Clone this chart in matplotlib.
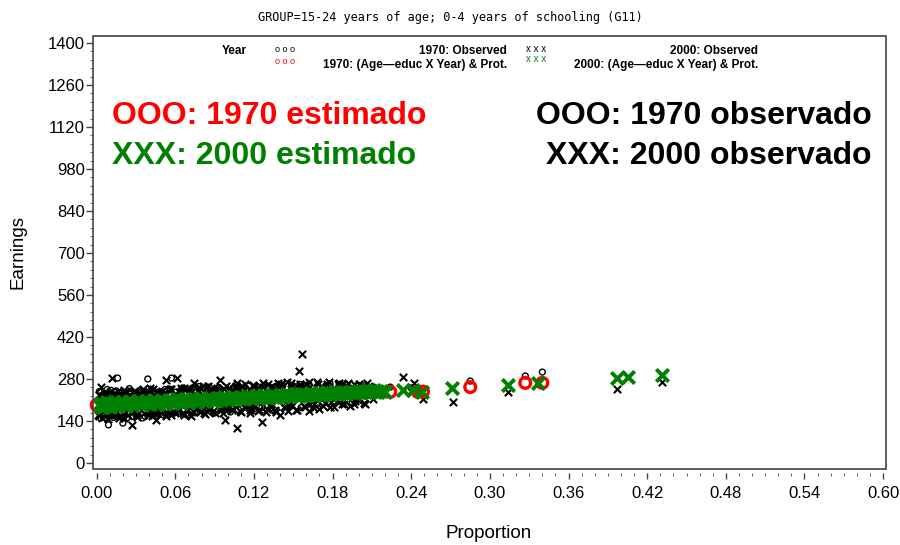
import matplotlib
matplotlib.use("Agg")
import matplotlib.pyplot as plt
from matplotlib.patches import Rectangle
from matplotlib.ticker import MultipleLocator

plt.rcParams['font.family'] = ['Liberation Sans', 'DejaVu Sans']

title = "GROUP=15-24 years of age; 0-4 years of schooling (G11)"
x_ticks = [0.00, 0.06, 0.12, 0.18, 0.24, 0.30, 0.36, 0.42, 0.48, 0.54, 0.60]
y_ticks = [0, 140, 280, 420, 560, 700, 840, 980, 1120, 1260, 1400]

# 1970 observed (black circles)
obs70_prop = [0.001, 0.002, 0.003, 0.005, 0.006, 0.008, 0.009, 0.010, 0.011, 0.013,
              0.015, 0.016, 0.018, 0.020, 0.021, 0.023, 0.025, 0.027, 0.029, 0.031,
              0.033, 0.035, 0.037, 0.039, 0.041, 0.043, 0.045, 0.047, 0.049, 0.052,
              0.055, 0.057, 0.060, 0.063, 0.066, 0.069, 0.072, 0.075, 0.078, 0.081,
              0.084, 0.086, 0.089, 0.092, 0.095, 0.098, 0.102, 0.106, 0.110, 0.114,
              0.118, 0.122, 0.126, 0.130, 0.135, 0.140, 0.145, 0.150, 0.156, 0.162,
              0.168, 0.175, 0.182, 0.190, 0.198, 0.205, 0.212,
              0.004, 0.012, 0.022, 0.030, 0.038, 0.046, 0.054, 0.062, 0.070, 0.080,
              0.090, 0.100, 0.112, 0.124, 0.136, 0.148, 0.160, 0.172, 0.185, 0.195,
              0.003, 0.007, 0.011, 0.014, 0.019, 0.023, 0.026, 0.030, 0.034, 0.037,
              0.042, 0.044, 0.048, 0.051, 0.056, 0.059, 0.064, 0.068, 0.073, 0.077,
              0.083, 0.087, 0.093, 0.097, 0.104, 0.108, 0.116, 0.120, 0.128, 0.133,
              0.142, 0.147, 0.155, 0.165, 0.178, 0.188, 0.200,
              0.224, 0.240, 0.285, 0.327, 0.340]
obs70_earn = [180, 238, 150, 222, 160, 245, 127, 170, 228, 152,
              240, 283, 162, 133, 235, 168, 248, 155, 230, 172,
              242, 150, 225, 280, 165, 238, 158, 232, 175, 245,
              163, 283, 236, 170, 250, 160, 242, 167, 255, 175,
              238, 253, 165, 248, 178, 240, 170, 258, 182, 246,
              175, 255, 185, 250, 178, 262, 190, 255, 185, 262,
              195, 258, 200, 262, 205, 258, 248,
              226, 160, 229, 165, 236, 170, 240, 175, 242, 178,
              245, 180, 250, 186, 254, 190, 258, 196, 262, 202,
              236, 152, 242, 158, 232, 150, 240, 160, 236, 155,
              244, 162, 236, 160, 246, 166, 240, 163, 250, 170,
              246, 172, 252, 175, 250, 178, 256, 180, 258, 184,
              258, 186, 262, 190, 264, 198, 258,
              253, 250, 273, 290, 303]

# 2000 observed (black x)
obs00_prop = [0.001, 0.002, 0.003, 0.004, 0.005, 0.006, 0.007, 0.008, 0.009, 0.010,
              0.012, 0.013, 0.014, 0.015, 0.016, 0.017, 0.018, 0.019, 0.020, 0.021,
              0.022, 0.024, 0.025, 0.027, 0.028, 0.029, 0.031, 0.032, 0.034, 0.035,
              0.036, 0.038, 0.039, 0.041, 0.042, 0.044, 0.045, 0.046, 0.048, 0.049,
              0.051, 0.053, 0.054, 0.056, 0.057, 0.059, 0.061, 0.062, 0.064, 0.066,
              0.067, 0.069, 0.071, 0.072, 0.074, 0.076, 0.077, 0.079, 0.081, 0.083,
              0.084, 0.086, 0.088, 0.090, 0.092, 0.094, 0.095, 0.097, 0.098, 0.099,
              0.101, 0.103, 0.105, 0.107, 0.107, 0.109, 0.111, 0.113, 0.115, 0.117,
              0.119, 0.121, 0.122, 0.124, 0.126, 0.127, 0.129, 0.131, 0.133, 0.134,
              0.136, 0.138, 0.140, 0.141, 0.143, 0.145, 0.146, 0.148, 0.149, 0.151,
              0.153, 0.154, 0.156, 0.157, 0.158, 0.160, 0.162, 0.164, 0.166, 0.168,
              0.170, 0.172, 0.174, 0.176, 0.178, 0.180, 0.183, 0.185, 0.187, 0.190,
              0.193, 0.196, 0.199, 0.202, 0.205, 0.208, 0.211,
              0.003, 0.011, 0.019, 0.026, 0.033, 0.040, 0.047, 0.055, 0.063, 0.070,
              0.078, 0.085, 0.093, 0.100, 0.108, 0.116, 0.124, 0.132, 0.139, 0.147,
              0.155, 0.163, 0.171, 0.179, 0.188, 0.197, 0.206,
              0.002, 0.006, 0.009, 0.013, 0.017, 0.021, 0.024, 0.028, 0.031, 0.035,
              0.039, 0.043, 0.046, 0.050, 0.053, 0.057, 0.060, 0.064, 0.067, 0.071,
              0.074, 0.078, 0.082, 0.085, 0.089, 0.092, 0.096, 0.099, 0.103, 0.106,
              0.110, 0.113, 0.117, 0.120, 0.123, 0.127, 0.130, 0.134, 0.137, 0.141,
              0.144, 0.148, 0.152, 0.155, 0.159, 0.162, 0.166, 0.169, 0.173, 0.177,
              0.181, 0.184, 0.189, 0.192, 0.196, 0.200, 0.204, 0.209,
              0.234, 0.242, 0.249, 0.272, 0.314, 0.397, 0.431]
obs00_earn = [160, 225, 253, 150, 170, 230, 165, 215, 145, 238,
              283, 160, 222, 172, 240, 155, 228, 168, 212, 150,
              235, 175, 226, 127, 170, 240, 160, 222, 178, 245,
              165, 230, 172, 250, 158, 225, 143, 180, 238, 168,
              232, 277, 170, 245, 160, 228, 283, 175, 240, 165,
              250, 180, 236, 158, 267, 183, 242, 170, 255, 162,
              232, 178, 248, 168, 238, 277, 175, 245, 143, 186,
              250, 180, 240, 267, 117, 172, 255, 185, 238, 165,
              260, 190, 245, 178, 137, 252, 170, 262, 188, 242,
              175, 268, 160, 248, 185, 270, 172, 255, 190, 240,
              178, 307, 250, 363, 190, 262, 172, 245, 195, 270,
              180, 252, 200, 262, 185, 248, 205, 268, 195, 255,
              190, 262, 210, 250, 195, 258, 212,
              222, 166, 226, 170, 232, 172, 235, 176, 238, 178,
              240, 180, 244, 184, 246, 188, 250, 192, 252, 195,
              256, 198, 258, 202, 262, 206, 266,
              156, 238, 162, 233, 150, 242, 160, 236, 152, 238,
              160, 245, 165, 240, 158, 248, 168, 250, 160, 246,
              170, 252, 168, 256, 172, 250, 165, 255, 175, 258,
              170, 262, 178, 255, 172, 266, 180, 258, 170, 262,
              182, 268, 175, 262, 185, 270, 182, 262, 190, 270,
              188, 262, 195, 268, 198, 262, 200, 252,
              287, 267, 213, 203, 237, 247, 270]

# 1970 (Age-educ X Year) & Prot. (red circles)
est70_prop = [0.000, 0.030, 0.060, 0.090, 0.120, 0.150, 0.180, 0.206,
              0.224, 0.245, 0.249, 0.285, 0.327, 0.340]
est70_earn = [193, 199, 206, 213, 219, 226, 233, 238,
              237, 237, 238, 253, 267, 267]

# 2000 (Age-educ X Year) & Prot. (green x)
est00_prop = [0.003, 0.004, 0.006, 0.008, 0.010, 0.013, 0.016, 0.019, 0.022, 0.025,
              0.028, 0.031, 0.034, 0.037, 0.040, 0.043, 0.046, 0.049, 0.052, 0.055,
              0.058, 0.061, 0.064, 0.067, 0.070, 0.073, 0.076, 0.079, 0.082, 0.085,
              0.088, 0.091, 0.094, 0.097, 0.100, 0.103, 0.106, 0.109, 0.112, 0.115,
              0.118, 0.121, 0.124, 0.127, 0.130, 0.133, 0.136, 0.139, 0.142, 0.145,
              0.148, 0.151, 0.154, 0.157, 0.160, 0.163, 0.166, 0.169, 0.172, 0.175,
              0.178, 0.181, 0.184, 0.187, 0.190, 0.193, 0.196, 0.199, 0.202, 0.205,
              0.208, 0.211, 0.214, 0.217,
              0.0045, 0.0075, 0.0105, 0.0135, 0.0165, 0.0195, 0.0225, 0.0255, 0.0285,
              0.0315, 0.0345, 0.0375, 0.0405, 0.0435, 0.0465, 0.0495, 0.0525, 0.0555,
              0.0585, 0.0615, 0.0645, 0.0675, 0.0705, 0.0735, 0.0765, 0.0795, 0.0825,
              0.0855, 0.0885, 0.0915, 0.0945, 0.0975, 0.1005, 0.1035, 0.1065, 0.1095,
              0.1125, 0.1155, 0.1185, 0.1215, 0.1245, 0.1275, 0.1305, 0.1335, 0.1365,
              0.1395, 0.1425, 0.1455, 0.1485, 0.1515, 0.1545, 0.1575, 0.1605, 0.1635,
              0.1665, 0.1695, 0.1725, 0.1755, 0.1785, 0.1815, 0.1845, 0.1875, 0.1905,
              0.1935, 0.1965, 0.1995, 0.2025, 0.2055, 0.2085, 0.2115, 0.2145, 0.0035,
              0.220, 0.234, 0.241, 0.248, 0.271, 0.314, 0.337, 0.397, 0.405, 0.431]
est00_earn = [188, 198, 189, 199, 191, 200, 193, 201, 194, 202,
              196, 203, 197, 204, 199, 205, 200, 206, 202, 207,
              203, 208, 205, 210, 206, 211, 207, 212, 209, 213,
              210, 214, 212, 215, 213, 217, 214, 218, 216, 219,
              217, 220, 219, 221, 220, 223, 221, 224, 223, 225,
              224, 227, 225, 228, 227, 229, 228, 230, 230, 232,
              231, 233, 233, 234, 234, 236, 235, 237, 237, 238,
              238, 239, 240, 240,
              187, 202, 188, 203, 190, 204, 191, 205, 193,
              206, 194, 207, 196, 208, 197, 210, 198, 211,
              200, 212, 201, 213, 203, 214, 204, 215, 206,
              216, 207, 218, 209, 219, 210, 220, 212, 221,
              213, 223, 215, 224, 216, 225, 218, 226, 219,
              228, 220, 229, 222, 230, 223, 231, 225, 232,
              226, 234, 228, 235, 229, 236, 231, 237, 232,
              238, 233, 240, 235, 241, 236, 242, 237, 201,
              237, 243, 243, 237, 250, 260, 267, 283, 287, 293]

W, H = 900, 545
fig = plt.figure(figsize=(9, 5.45), dpi=100)
ax = fig.add_axes([93 / W, 1 - 469 / H, 793 / W, 433 / H])

ax.scatter(obs70_prop, obs70_earn, s=18, marker='o', facecolors='none',
           edgecolors='black', linewidths=1.0, zorder=2)
ax.scatter(obs00_prop, obs00_earn, s=28, marker='x', color='black',
           linewidths=1.5, zorder=3)
ax.scatter(est70_prop, est70_earn, s=60, marker='o', facecolors='none',
           edgecolors='red', linewidths=2.4, zorder=4, clip_on=False)
ax.scatter(est00_prop, est00_earn, s=80, marker='x', color='#008000',
           linewidths=2.8, zorder=5)

ax.set_xlim(-0.0028, 0.6022)
ax.set_ylim(-20, 1423)
ax.set_xticks(x_ticks)
ax.set_xticklabels([f"{v:.2f}" for v in x_ticks])
ax.set_yticks(y_ticks)
ax.xaxis.set_minor_locator(MultipleLocator(0.01))
ax.yaxis.set_minor_locator(MultipleLocator(28))
ax.tick_params(axis='both', which='major', direction='out', labelsize=12,
               color='#444444', width=1.0)
ax.tick_params(axis='x', which='major', length=4.2, pad=5)
ax.tick_params(axis='y', which='major', length=5, pad=1)
ax.tick_params(axis='x', which='minor', length=2, color='#444444')
ax.tick_params(axis='y', which='minor', length=2.2, color='#444444')

for side in ['top', 'right', 'left']:
    ax.spines[side].set_visible(False)
ax.spines['bottom'].set_position(('outward', 3))
ax.spines['bottom'].set_color('none')
ax.add_patch(Rectangle((0, 0), 1, 1, transform=ax.transAxes, fill=False,
                       edgecolor='#444444', linewidth=1.2, zorder=10, clip_on=False))

def fx(px):
    return px / W

def fy(py):
    return 1 - py / H

# axis labels placed where the reference has them
fig.text(fx(18), fy(252), "Earnings", fontsize=13.5, rotation=90,
         ha='center', va='center')
fig.text(fx(489), fy(533), "Proportion", fontsize=13.5, ha='center', va='center')

fig.text(fx(450), fy(17), title, family='DejaVu Sans Mono', fontsize=8.6,
         ha='center', va='center')

# legend
lf = dict(fontsize=8.5, fontweight='bold', va='center')
fig.text(fx(222), fy(51), "Year", ha='left', **lf)
fig.text(fx(285), fy(49), "o o o", ha='center', color='black', fontsize=6.5, va='center')
fig.text(fx(507), fy(51), "1970: Observed", ha='right', **lf)
fig.text(fx(536), fy(49), "x x x", ha='center', color='black', fontsize=7, va='center')
fig.text(fx(758), fy(51), "2000: Observed", ha='right', **lf)
fig.text(fx(285), fy(62), "o o o", ha='center', color='red', fontsize=6.5, va='center')
fig.text(fx(507), fy(65), "1970: (Age\u2014educ X Year) & Prot.", ha='right', **lf)
fig.text(fx(536), fy(59), "x x x", ha='center', color='#008000', fontsize=7, va='center')
fig.text(fx(758), fy(65), "2000: (Age\u2014educ X Year) & Prot.", ha='right', **lf)

# big annotations
bf = dict(fontsize=23, fontweight='bold', va='center')
fig.text(fx(112), fy(116), "OOO: 1970 estimado", ha='left', color='#ff0000', **bf)
fig.text(fx(112), fy(156), "XXX: 2000 estimado", ha='left', color='#008000', **bf)
fig.text(fx(872), fy(116), "OOO: 1970 observado", ha='right', color='black', **bf)
fig.text(fx(872), fy(156), "XXX: 2000 observado", ha='right', color='black', **bf)

fig.savefig("out.png", dpi=100)
